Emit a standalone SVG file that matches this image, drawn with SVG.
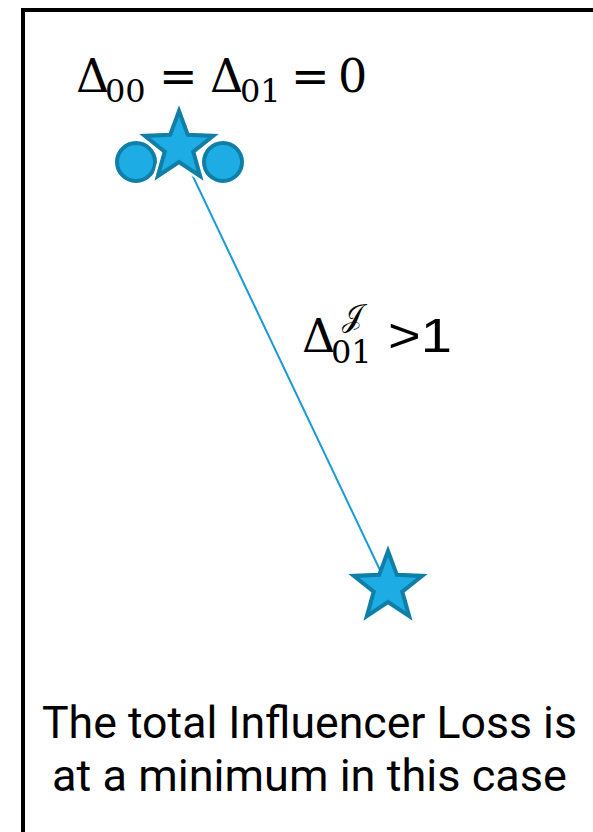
<svg xmlns="http://www.w3.org/2000/svg" width="593" height="832" viewBox="0 0 593 832">
  <style>
    .math { font-family: "DejaVu Serif", "Liberation Serif", serif; fill: #000; }
    .sans { font-family: "Liberation Sans", Arial, sans-serif; fill: #000; }
    .cap { font-family: Roboto, "Liberation Sans", sans-serif; fill: #000; font-size: 44px; }
    .dot { fill: #1DADE4; stroke: #0F7FA8; stroke-width: 4; }
    .star { fill: #1DADE4; stroke: #0F7FA8; stroke-width: 4; stroke-linejoin: miter; }
    .halo { fill: #FFFFFF; stroke: #FFFFFF; stroke-width: 9; }
    .link { stroke: #1A9BD7; stroke-width: 2; fill: none; }
  </style>
  <defs>
    <path id="starShape" d="M0,-36 L8.82,-12.14 L34.24,-11.12 L14.27,4.64 L21.16,29.12 L0,15 L-21.16,29.12 L-14.27,4.64 L-34.24,-11.12 L-8.82,-12.14 Z"/>
  </defs>
  <rect x="0" y="0" width="593" height="832" fill="#FFFFFF"/>
  <rect id="frame" x="23" y="10" width="600" height="830" fill="none" stroke="#000" stroke-width="4"/>

  <g id="connectors">
    <line class="link" x1="179" y1="147" x2="388" y2="587"/>
  </g>

  <g id="node-circle-left">
    <circle class="dot" cx="136" cy="162" r="19"/>
  </g>
  <g id="node-circle-right">
    <circle class="dot" cx="223" cy="162" r="19"/>
  </g>
  <g id="node-star-top">
    <use href="#starShape" class="halo" transform="translate(179,147)"/>
    <use href="#starShape" class="star" transform="translate(179,147)"/>
  </g>
  <g id="node-star-bottom">
    <use href="#starShape" class="star" transform="translate(388,587)"/>
  </g>

  <g id="label-top">
    <text class="math" font-size="46" x="76" y="92">Δ</text>
    <text class="math" font-size="32" x="105" y="102">00</text>
    <text class="math" font-size="46" x="159" y="92">=</text>
    <text class="math" font-size="46" x="210" y="92">Δ</text>
    <text class="math" font-size="32" x="240" y="102">01</text>
    <text class="math" font-size="46" x="291" y="92">=</text>
    <text class="math" font-size="46" x="338" y="92">0</text>
  </g>

  <g id="label-edge">
    <text class="math" font-size="46" x="302" y="352">Δ</text>
    <text class="math" font-size="30" x="342" y="326">𝒥</text>
    <text class="math" font-size="32" x="331" y="363">01</text>
    <text class="sans" font-size="48" x="388" y="352" textLength="64" lengthAdjust="spacingAndGlyphs">&gt;1</text>
  </g>

  <g id="caption">
    <text class="cap" x="309.5" y="738" text-anchor="middle" textLength="535" lengthAdjust="spacingAndGlyphs">The total Influencer Loss is</text>
    <text class="cap" x="309.5" y="791" text-anchor="middle" textLength="515" lengthAdjust="spacingAndGlyphs">at a minimum in this case</text>
  </g>
</svg>
